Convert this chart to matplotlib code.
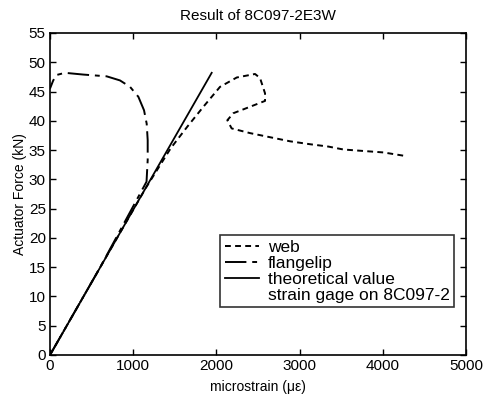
import matplotlib
matplotlib.use('Agg')
from matplotlib import pyplot as plt
from matplotlib.lines import Line2D

plt.rcParams['font.family'] = ['Liberation Sans', 'DejaVu Sans']

# web gage
web_x = [0, 600, 1150, 1450, 1650, 1843, 2043, 2244, 2464, 2524, 2584, 2584,
         2404, 2203, 2131, 2183, 2404, 2644, 2885, 3125, 3345, 3526, 4006, 4267]
web_y = [0, 14.9, 28.5, 35.3, 39.0, 42.4, 45.8, 47.4, 48.0, 47.3, 44.7, 43.4,
         42.4, 41.3, 40.1, 38.7, 37.9, 37.2, 36.5, 36.0, 35.6, 35.1, 34.6, 34.0]

# flange lip gage
flange_x = [0, 600, 1160, 1174, 1174, 1162, 1130, 1062, 962, 841, 681, 400,
            180, 72, 36, 0]
flange_y = [0, 14.9, 29.6, 33.3, 36.7, 39.5, 41.8, 44.1, 45.8, 46.9, 47.6, 47.9,
            48.2, 47.8, 46.8, 45.5]

# theoretical value
theo_x = [0, 1943]
theo_y = [0, 48.2]

fig = plt.figure(figsize=(4.83, 4.0), dpi=100)
ax = fig.add_axes([0.1035, 0.1125, 0.8615, 0.805])

ax.plot(web_x, web_y, color='black', lw=1.4, dashes=(3, 2.2), label='web')
ax.plot(flange_x, flange_y, color='black', lw=1.4, dashes=(11, 3, 2.5, 3),
        label='flangelip')
ax.plot(theo_x, theo_y, color='black', lw=1.3, label='theoretical value')

ax.set_xlim(0, 5000)
ax.set_ylim(0, 55)
ax.set_xticks([0, 1000, 2000, 3000, 4000, 5000])
ax.set_yticks(range(0, 56, 5))
ax.tick_params(direction='in', length=4, width=1, top=True, right=True,
               labelsize=11, pad=3)
for s in ax.spines.values():
    s.set_linewidth(1.2)

ax.set_xlabel('microstrain (\u03bc\u03b5)', fontsize=10, labelpad=5)
ax.set_ylabel('Actuator Force (kN)', fontsize=10, labelpad=1)
ax.set_title('Result of 8C097-2E3W', fontsize=11, pad=9)

handles, labels = ax.get_legend_handles_labels()
handles.append(Line2D([], [], color='none'))
labels.append('strain gage on 8C097-2')
leg = ax.legend(handles, labels, loc='lower left',
                bbox_to_anchor=(0.409, 0.149), fontsize=12.5, frameon=True,
                fancybox=False, edgecolor='black', handlelength=2.0,
                handletextpad=0.5, labelspacing=0.05, borderpad=0.25,
                borderaxespad=0)
leg.get_frame().set_linewidth(1.2)

fig.savefig('out.png', dpi=100)
